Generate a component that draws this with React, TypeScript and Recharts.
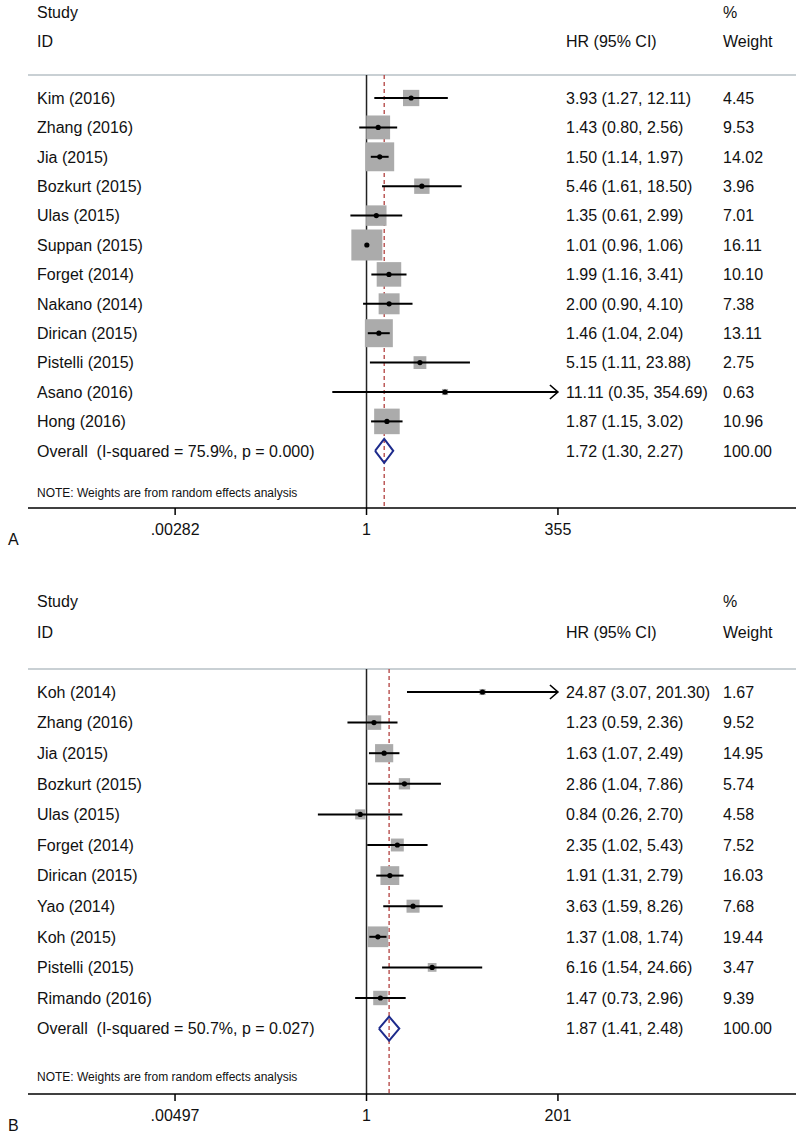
import React from 'react';
import { ComposedChart, Scatter, XAxis, YAxis, ReferenceLine } from 'recharts';

// panel A
const studiesA = ['Kim (2016)', 'Zhang (2016)', 'Jia (2015)', 'Bozkurt (2015)', 'Ulas (2015)', 'Suppan (2015)', 'Forget (2014)', 'Nakano (2014)', 'Dirican (2015)', 'Pistelli (2015)', 'Asano (2016)', 'Hong (2016)'];
const hrA = [3.93, 1.43, 1.5, 5.46, 1.35, 1.01, 1.99, 2.0, 1.46, 5.15, 11.11, 1.87];
const lowA = [1.27, 0.8, 1.14, 1.61, 0.61, 0.96, 1.16, 0.9, 1.04, 1.11, 0.35, 1.15];
const highA = [12.11, 2.56, 1.97, 18.5, 2.99, 1.06, 3.41, 4.1, 2.04, 23.88, 354.69, 3.02];
const weightA = [4.45, 9.53, 14.02, 3.96, 7.01, 16.11, 10.1, 7.38, 13.11, 2.75, 0.63, 10.96];
const overallA = [1.72, 1.3, 2.27];
const hetA = 'Overall  (I-squared = 75.9%, p = 0.000)';
const ticksA = [0.00282, 1, 355];
const tickLabelsA = ['.00282', '1', '355'];

// panel B
const studiesB = ['Koh (2014)', 'Zhang (2016)', 'Jia (2015)', 'Bozkurt (2015)', 'Ulas (2015)', 'Forget (2014)', 'Dirican (2015)', 'Yao (2014)', 'Koh (2015)', 'Pistelli (2015)', 'Rimando (2016)'];
const hrB = [24.87, 1.23, 1.63, 2.86, 0.84, 2.35, 1.91, 3.63, 1.37, 6.16, 1.47];
const lowB = [3.07, 0.59, 1.07, 1.04, 0.26, 1.02, 1.31, 1.59, 1.08, 1.54, 0.73];
const highB = [201.3, 2.36, 2.49, 7.86, 2.7, 5.43, 2.79, 8.26, 1.74, 24.66, 2.96];
const weightB = [1.67, 9.52, 14.95, 5.74, 4.58, 7.52, 16.03, 7.68, 19.44, 3.47, 9.39];
const overallB = [1.87, 1.41, 2.48];
const hetB = 'Overall  (I-squared = 50.7%, p = 0.027)';
const ticksB = [0.00497, 1, 201];
const tickLabelsB = ['.00497', '1', '201'];

const NOTE = 'NOTE: Weights are from random effects analysis';
const FONT = '"Liberation Sans", Arial, sans-serif';

const fmt = (v: number) => v.toFixed(2);
const ciText = (h: number, l: number, u: number) => `${fmt(h)} (${fmt(l)}, ${fmt(u)})`;

const Empty = () => <g />;

const TextRow = (props: any) => {
  const { cy, payload } = props;
  const fs = payload.small ? 12 : 16;
  return (
    <g fontFamily={FONT} fontSize={fs} fill="#111">
      <text x={37} y={cy} dy="0.36em" xmlSpace="preserve" style={{ whiteSpace: 'pre' }}>{payload.name}</text>
      {payload.ci && <text x={566} y={cy} dy="0.36em">{payload.ci}</text>}
      {payload.wt && <text x={723} y={cy} dy="0.36em">{payload.wt}</text>}
    </g>
  );
};

const CiEnd = (props: any) => {
  const { cx, cy, payload } = props;
  if (!payload.arrow) return <g />;
  return <path d={`M${cx - 8},${cy - 7}L${cx},${cy}L${cx - 8},${cy + 7}`} fill="none" stroke="#000" strokeWidth={1.6} />;
};

type PanelProps = {
  studies: string[]; hr: number[]; low: number[]; high: number[]; weight: number[];
  overall: number[]; het: string; ticks: number[]; tickLabels: string[]; letter: string;
  height: number; axisY: number; row0Y: number; rowH: number;
  studyY: number; idY: number; topLineY: number; noteY: number; letterY: number;
  xDomain: [number, number]; boxK: number;
};

function ForestPanel(p: PanelProps) {
  const n = p.studies.length;
  const toRow = (py: number) => (py - p.row0Y) / p.rowH;
  const yTop = toRow(0);
  const yBottom = toRow(p.axisY);
  const topLine = toRow(p.topLineY);
  const xMax = p.ticks[p.ticks.length - 1];
  const [oHr, oLow, oHigh] = p.overall;
  const dh = 12 / p.rowH;

  const boxes = p.studies.map((s, i) => ({ x: p.hr[i], y: i, w: p.weight[i] }));
  const texts = [
    { x: 1, y: toRow(p.studyY), name: 'Study', ci: '', wt: '%' },
    { x: 1, y: toRow(p.idY), name: 'ID', ci: 'HR (95% CI)', wt: 'Weight' },
    ...p.studies.map((s, i) => ({ x: 1, y: i, name: s, ci: ciText(p.hr[i], p.low[i], p.high[i]), wt: fmt(p.weight[i]) })),
    { x: 1, y: n, name: p.het, ci: ciText(oHr, oLow, oHigh), wt: '100.00' },
    { x: 1, y: toRow(p.noteY), name: NOTE, ci: '', wt: '', small: true },
  ];
  const diamond = [
    { x: oLow, y: n }, { x: oHr, y: n - dh }, { x: oHigh, y: n }, { x: oHr, y: n + dh }, { x: oLow, y: n },
  ];

  return (
    <div style={{ position: 'relative', width: 800, height: p.height }}>
      <ComposedChart width={800} height={p.height} margin={{ top: 0, right: 4, bottom: 0, left: 28 }}>
        <XAxis
          type="number"
          dataKey="x"
          scale="log"
          domain={p.xDomain}
          allowDataOverflow
          ticks={p.ticks}
          interval={0}
          tickFormatter={(v: number) => p.tickLabels[p.ticks.indexOf(v)]}
          height={p.height - p.axisY}
          tickSize={7}
          tickMargin={9}
          axisLine={{ stroke: '#000', strokeWidth: 1.5 }}
          tickLine={{ stroke: '#000', strokeWidth: 1.5 }}
          tick={{ fill: '#111', fontSize: 16, fontFamily: FONT }}
        />
        <YAxis type="number" dataKey="y" domain={[yTop, yBottom]} reversed allowDataOverflow hide width={0} />
        <ReferenceLine y={topLine} stroke="#b7c0c6" strokeWidth={1.5} />
        <ReferenceLine segment={[{ x: 1, y: topLine }, { x: 1, y: yBottom }]} stroke="#222" strokeWidth={1.5} />
        <Scatter data={boxes} fill="#aaa" isAnimationActive={false} shape={(props: any) => {
          const s = p.boxK * Math.sqrt(props.payload.w);
          return <rect x={props.cx - s / 2} y={props.cy - s / 2} width={s} height={s} fill="#ababab" />;
        }} />
        <ReferenceLine segment={[{ x: oHr, y: topLine }, { x: oHr, y: yBottom }]} stroke="#b2403f" strokeWidth={1.3} strokeDasharray="4 3" />
        {p.studies.map((s, i) => (
          <Scatter
            key={s + i}
            data={[{ x: p.low[i], y: i }, { x: Math.min(p.high[i], xMax), y: i, arrow: p.high[i] >= xMax * 0.99 }]}
            fill="#000"
            line={{ stroke: '#000', strokeWidth: 2 }}
            shape={CiEnd}
            isAnimationActive={false}
          />
        ))}
        <Scatter data={boxes} fill="#000" isAnimationActive={false} shape={(props: any) => (
          <circle cx={props.cx} cy={props.cy} r={2.6} fill="#000" />
        )} />
        <Scatter data={diamond} fill="#1d2b8c" line={{ stroke: '#1d2b8c', strokeWidth: 2, strokeLinejoin: 'miter' }} shape={Empty} isAnimationActive={false} />
        <Scatter data={texts} fill="#111" shape={TextRow} isAnimationActive={false} />
      </ComposedChart>
      <div style={{ position: 'absolute', left: 8, top: p.letterY - 10, fontFamily: FONT, fontSize: 16, color: '#111', lineHeight: '20px' }}>
        {p.letter}
      </div>
    </div>
  );
}

export default function App() {
  return (
    <div style={{ position: 'absolute', left: 0, top: 0, width: 800, height: 1138, background: '#fff' }}>
      <ForestPanel
        studies={studiesA} hr={hrA} low={lowA} high={highA} weight={weightA}
        overall={overallA} het={hetA} ticks={ticksA} tickLabels={tickLabelsA} letter="A"
        height={560} axisY={508} row0Y={98} rowH={29.4}
        studyY={12} idY={41} topLineY={75} noteY={493} letterY={540}
        xDomain={[3.09e-5, 5.27e5]} boxK={7.72}
      />
      <ForestPanel
        studies={studiesB} hr={hrB} low={lowB} high={highB} weight={weightB}
        overall={overallB} het={hetB} ticks={ticksB} tickLabels={tickLabelsB} letter="B"
        height={578} axisY={534} row0Y={132} rowH={30.6}
        studyY={41} idY={72} topLineY={109} noteY={517} letterY={566}
        xDomain={[8.46e-5, 1.47e5]} boxK={4.7}
      />
    </div>
  );
}
